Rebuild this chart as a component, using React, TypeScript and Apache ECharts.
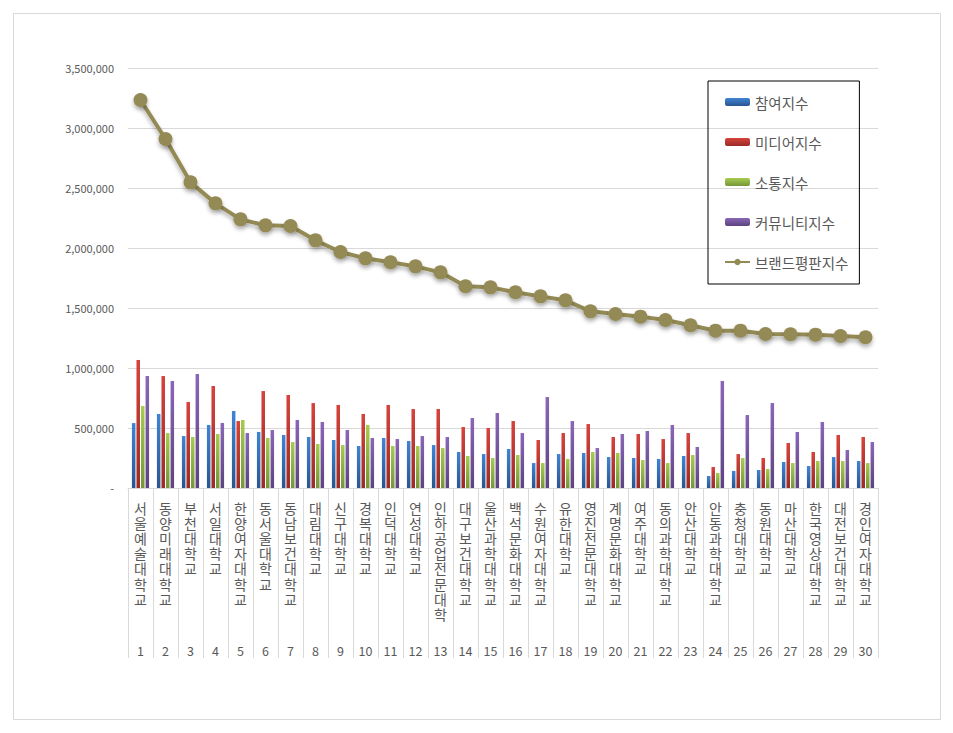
import React, { useEffect, useRef } from 'react';
import * as echarts from 'echarts';

const categories = ['서울예술대학교', '동양미래대학교', '부천대학교', '서일대학교', '한양여자대학교', '동서울대학교', '동남보건대학교', '대림대학교', '신구대학교', '경복대학교', '인덕대학교', '연성대학교', '인하공업전문대학', '대구보건대학교', '울산과학대학교', '백석문화대학교', '수원여자대학교', '유한대학교', '영진전문대학교', '계명문화대학교', '여주대학교', '동의과학대학교', '안산대학교', '안동과학대학교', '충청대학교', '동원대학교', '마산대학교', '한국영상대학교', '대전보건대학교', '경인여자대학교'];

const ranks = ['1', '2', '3', '4', '5', '6', '7', '8', '9', '10', '11', '12', '13', '14', '15', '16', '17', '18', '19', '20', '21', '22', '23', '24', '25', '26', '27', '28', '29', '30'];

const seriesNames = ['참여지수', '미디어지수', '소통지수', '커뮤니티지수', '브랜드평판지수'];

const participation = [541000, 617000, 433000, 525000, 642000, 467000, 442000, 425000, 400000, 350000, 417000, 392000, 358000, 300000, 283000, 325000, 208000, 283000, 292000, 258000, 250000, 242000, 267000, 100000, 142000, 150000, 217000, 183000, 258000, 225000];
const media = [1067000, 933000, 717000, 850000, 558000, 808000, 775000, 708000, 692000, 617000, 692000, 658000, 658000, 508000, 500000, 558000, 400000, 458000, 533000, 425000, 450000, 408000, 458000, 175000, 283000, 250000, 375000, 300000, 442000, 425000];
const communication = [683000, 458000, 425000, 450000, 567000, 417000, 383000, 367000, 358000, 525000, 350000, 350000, 333000, 267000, 250000, 275000, 208000, 242000, 300000, 292000, 233000, 208000, 275000, 125000, 250000, 158000, 208000, 225000, 225000, 208000];
const community = [933000, 892000, 950000, 542000, 458000, 483000, 567000, 550000, 483000, 417000, 408000, 433000, 425000, 583000, 625000, 458000, 758000, 558000, 333000, 450000, 475000, 525000, 342000, 892000, 608000, 708000, 467000, 550000, 317000, 383000];
const brand = [3233000, 2908000, 2547000, 2372000, 2239000, 2189000, 2183000, 2064000, 1967000, 1914000, 1881000, 1847000, 1797000, 1681000, 1672000, 1631000, 1597000, 1564000, 1472000, 1450000, 1428000, 1400000, 1356000, 1311000, 1311000, 1283000, 1281000, 1278000, 1267000, 1256000];

const FONT = "'Noto Sans CJK KR', 'Noto Sans', sans-serif";
const TEXT = '#595959';
const GRID_LINE = '#d9d9d9';

function grad(top: string, bottom: string) {
  return new echarts.graphic.LinearGradient(0, 0, 0, 1, [
    { offset: 0, color: top },
    { offset: 1, color: bottom },
  ]);
}

function barSeries(name: string, data: number[], top: string, bottom: string) {
  return {
    name,
    type: 'bar',
    data,
    barWidth: 3.5,
    barGap: '30%',
    itemStyle: { color: grad(top, bottom) },
  };
}

export default function App() {
  const ref = useRef<HTMLDivElement>(null);
  useEffect(() => {
    document.body.style.margin = '0';
    const chart = echarts.init(ref.current!, null, { renderer: 'svg' });
    const option: any = {
      animation: false,
      backgroundColor: '#ffffff',
      textStyle: { fontFamily: FONT },
      graphic: [
        {
          type: 'rect',
          silent: true,
          z: -10,
          shape: { x: 13.5, y: 13.5, width: 927, height: 706 },
          style: { fill: 'none', stroke: GRID_LINE, lineWidth: 1 },
        },
      ],
      grid: {
        left: 128,
        right: 75,
        top: 68,
        bottom: 245,
        containLabel: false,
        outerBoundsMode: 'none',
      },
      legend: {
        orient: 'vertical',
        left: 708,
        top: 81,
        padding: [13, 11, 14, 16],
        itemGap: 24,
        itemWidth: 25,
        itemHeight: 8,
        borderColor: '#000000',
        borderWidth: 1,
        data: seriesNames,
        textStyle: { fontSize: 14.5, lineHeight: 16, color: TEXT, fontFamily: FONT },
      },
      xAxis: [
        {
          type: 'category',
          data: categories,
          axisLine: { show: true, lineStyle: { color: GRID_LINE, width: 1 } },
          axisTick: { show: true, length: 170, interval: 0, lineStyle: { color: GRID_LINE } },
          axisLabel: {
            interval: 0,
            margin: 12,
            fontSize: 14,
            lineHeight: 15.2,
            color: TEXT,
            fontFamily: FONT,
            verticalAlign: 'top',
            formatter: (v: string) => v.split('').join('\n'),
          },
        },
        {
          type: 'category',
          data: ranks,
          position: 'bottom',
          offset: 147,
          axisLine: { show: false },
          axisTick: { show: false },
          axisLabel: {
            interval: 0,
            margin: 8,
            fontSize: 12.5,
            lineHeight: 15,
            color: TEXT,
            fontFamily: FONT,
          },
        },
      ],
      yAxis: {
        type: 'value',
        min: 0,
        max: 3500000,
        interval: 500000,
        axisLine: { show: false },
        axisTick: { show: false },
        splitLine: { lineStyle: { color: GRID_LINE, width: 1 } },
        axisLabel: {
          margin: 14,
          fontSize: 11,
          color: TEXT,
          fontFamily: FONT,
          formatter: (v: number) => (v === 0 ? '-' : v.toLocaleString('en-US')),
        },
      },
      series: [
        barSeries(seriesNames[0], participation, '#3f84d4', '#2a5591'),
        barSeries(seriesNames[1], media, '#d6433c', '#9c2b27'),
        barSeries(seriesNames[2], communication, '#a6cc4f', '#76963a'),
        barSeries(seriesNames[3], community, '#8a66b8', '#5c4380'),
        {
          name: seriesNames[4],
          type: 'line',
          data: brand,
          symbol: 'circle',
          symbolSize: 14,
          lineStyle: {
            color: '#948a54',
            width: 4,
            shadowColor: 'rgba(0,0,0,0.3)',
            shadowBlur: 4,
            shadowOffsetY: 3,
          },
          itemStyle: {
            color: '#948a54',
            shadowColor: 'rgba(0,0,0,0.3)',
            shadowBlur: 4,
            shadowOffsetY: 3,
          },
          z: 5,
        },
      ],
    };
    chart.setOption(option);
    return () => chart.dispose();
  }, []);
  return <div ref={ref} style={{ width: 953, height: 733 }} />;
}
